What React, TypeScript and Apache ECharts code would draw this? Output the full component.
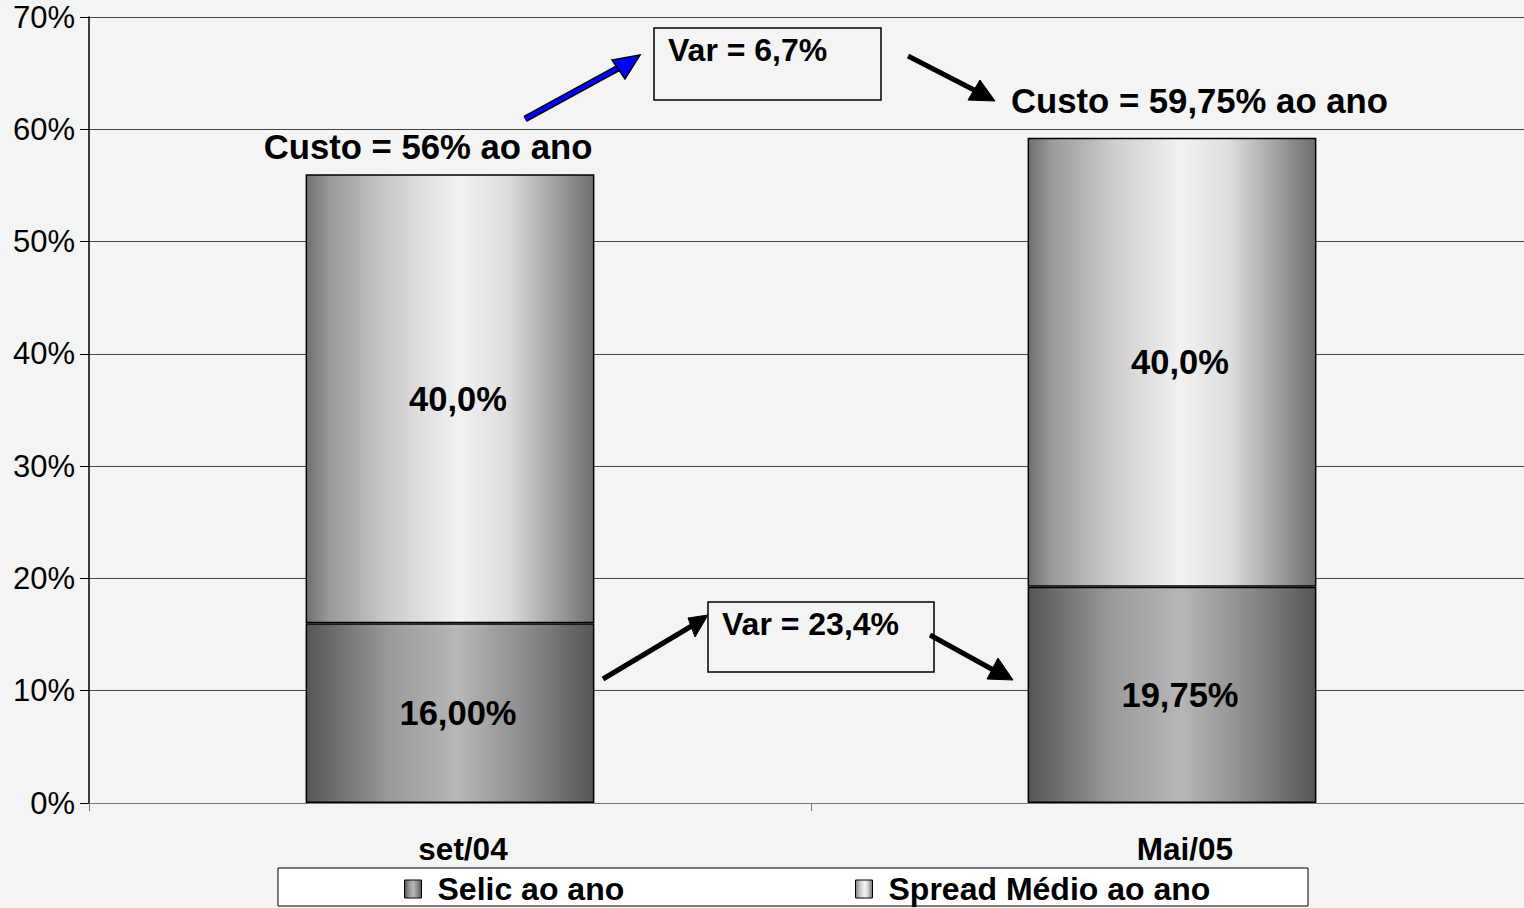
import React, { useEffect, useRef } from "react";
import * as echarts from "echarts";

const categories = ["set/04", "Mai/05"];
const selicValues = [16, 19.25];
const spreadValues = [40, 40];
const selicLabels = ["16,00%", "19,75%"];
const spreadLabels = ["40,0%", "40,0%"];
const seriesNames = ["Selic ao ano", "Spread Médio ao ano"];
const yMax = 70;
const yInterval = 10;

const FONT = "'Liberation Sans', Arial, sans-serif";

const selicGrad = new echarts.graphic.LinearGradient(0, 0, 1, 0, [
  { offset: 0, color: "#555555" },
  { offset: 0.29, color: "#9a9a9a" },
  { offset: 0.53, color: "#b7b7b7" },
  { offset: 0.78, color: "#888888" },
  { offset: 1, color: "#555555" },
]);
const spreadGrad = new echarts.graphic.LinearGradient(0, 0, 1, 0, [
  { offset: 0, color: "#707070" },
  { offset: 0.08, color: "#999999" },
  { offset: 0.29, color: "#cccccc" },
  { offset: 0.53, color: "#f2f2f2" },
  { offset: 0.7, color: "#dddddd" },
  { offset: 0.84, color: "#aaaaaa" },
  { offset: 1, color: "#6e6e6e" },
]);

function arrow(x1: number, y1: number, x2: number, y2: number, tip: number[], c1: number[], c2: number[], blue = false) {
  const els: any[] = [];
  if (blue) {
    els.push({ type: "line", shape: { x1, y1, x2, y2 }, style: { stroke: "#000", lineWidth: 7 }, z: 10 });
    els.push({ type: "line", shape: { x1, y1, x2, y2 }, style: { stroke: "#0000ff", lineWidth: 4 }, z: 11 });
    els.push({ type: "polygon", shape: { points: [tip, c1, c2] }, style: { fill: "#0000ff", stroke: "#000", lineWidth: 1.5 }, z: 12 });
  } else {
    els.push({ type: "line", shape: { x1, y1, x2, y2 }, style: { stroke: "#000", lineWidth: 5 }, z: 10 });
    els.push({ type: "polygon", shape: { points: [tip, c1, c2] }, style: { fill: "#000", stroke: "#000", lineWidth: 1 }, z: 12 });
  }
  return els;
}

export default function App() {
  const ref = useRef<HTMLDivElement>(null);
  useEffect(() => {
    if (!ref.current) return;
    const chart = echarts.init(ref.current, null, { renderer: "svg" });
    const labelStyle = {
      show: true,
      position: "inside",
      offset: [8, 0],
      color: "#000",
      fontFamily: FONT,
      fontWeight: "bold",
      fontSize: 34.5,
    };
    const legendCommon = {
      top: 873,
      padding: 0,
      icon: "rect",
      itemWidth: 17,
      itemHeight: 18,
      itemStyle: { borderColor: "#000", borderWidth: 1 },
      textStyle: { fontFamily: FONT, fontWeight: "bold", fontSize: 32, color: "#000", padding: [0, 0, 0, 11] },
    };
    chart.setOption({
      animation: false,
      backgroundColor: "#f4f4f4",
      grid: { left: 89, top: 17, right: 9, bottom: 105, containLabel: false },
      legend: [
        { ...legendCommon, data: [seriesNames[0]], left: 404 },
        { ...legendCommon, data: [seriesNames[1]], left: 855 },
      ],
      xAxis: {
        type: "category",
        data: categories,
        axisLine: { lineStyle: { color: "#777", width: 1 } },
        axisTick: { show: true, length: 8, lineStyle: { color: "#777" } },
        axisLabel: {
          color: "#000",
          fontFamily: FONT,
          fontWeight: "bold",
          fontSize: 31.5,
          margin: 30,
          padding: [0, 0, 0, 26],
        },
      },
      yAxis: {
        type: "value",
        min: 0,
        max: yMax,
        interval: yInterval,
        axisLine: { show: true, lineStyle: { color: "#000", width: 1.5 } },
        axisTick: { show: true, length: 9, lineStyle: { color: "#000" } },
        axisLabel: {
          formatter: "{value}%",
          color: "#000",
          fontFamily: FONT,
          fontSize: 31,
          margin: 14,
        },
        splitLine: { show: true, lineStyle: { color: "#444", width: 1 } },
      },
      series: [
        {
          name: seriesNames[0],
          type: "bar",
          stack: "total",
          barWidth: "40%",
          data: selicValues,
          itemStyle: { color: selicGrad, borderColor: "#000", borderWidth: 1.5 },
          label: { ...labelStyle, formatter: (p: any) => selicLabels[p.dataIndex] },
        },
        {
          name: seriesNames[1],
          type: "bar",
          stack: "total",
          barWidth: "40%",
          data: spreadValues,
          itemStyle: { color: spreadGrad, borderColor: "#000", borderWidth: 1.5 },
          label: { ...labelStyle, formatter: (p: any) => spreadLabels[p.dataIndex] },
        },
      ],
      graphic: [
        { type: "rect", shape: { x: 278, y: 868, width: 1030, height: 38 }, style: { fill: "#ffffff", stroke: "#000", lineWidth: 1 }, z: -1, silent: true },
        { type: "rect", shape: { x: 654, y: 28, width: 227, height: 72 }, style: { fill: "#f4f4f4", stroke: "#000", lineWidth: 1.5 }, z: 5 },
        { type: "text", x: 668, y: 50, style: { text: "Var = 6,7%", fill: "#000", font: `bold 32px ${FONT}`, verticalAlign: "middle", align: "left" }, z: 6 },
        { type: "rect", shape: { x: 708, y: 602, width: 226, height: 70 }, style: { fill: "#f4f4f4", stroke: "#000", lineWidth: 1.5 }, z: 5 },
        { type: "text", x: 722, y: 624, style: { text: "Var = 23,4%", fill: "#000", font: `bold 32px ${FONT}`, verticalAlign: "middle", align: "left" }, z: 6 },
        { type: "text", x: 428, y: 147, style: { text: "Custo = 56% ao ano", fill: "#000", font: `bold 34.7px ${FONT}`, verticalAlign: "middle", align: "center" }, z: 6 },
        { type: "text", x: 1011, y: 101, style: { text: "Custo = 59,75% ao ano", fill: "#000", font: `bold 34.7px ${FONT}`, verticalAlign: "middle", align: "left" }, z: 6 },
        ...arrow(525, 119, 622, 66, [640, 55], [612, 60], [625, 79], true),
        ...arrow(908, 56, 978, 92, [995, 101], [968, 100], [980, 80]),
        ...arrow(603, 679, 695, 624, [708, 615], [688, 618], [695, 637]),
        ...arrow(930, 635, 997, 672, [1013, 680], [987, 679], [998, 658]),
      ],
    });
    return () => chart.dispose();
  }, []);
  return (
    <div style={{ position: "fixed", left: 0, top: 0, width: 1524, height: 908, overflow: "hidden" }}>
      <div ref={ref} style={{ position: "absolute", left: 0, top: 0, width: 1542, height: 908 }} />
    </div>
  );
}
